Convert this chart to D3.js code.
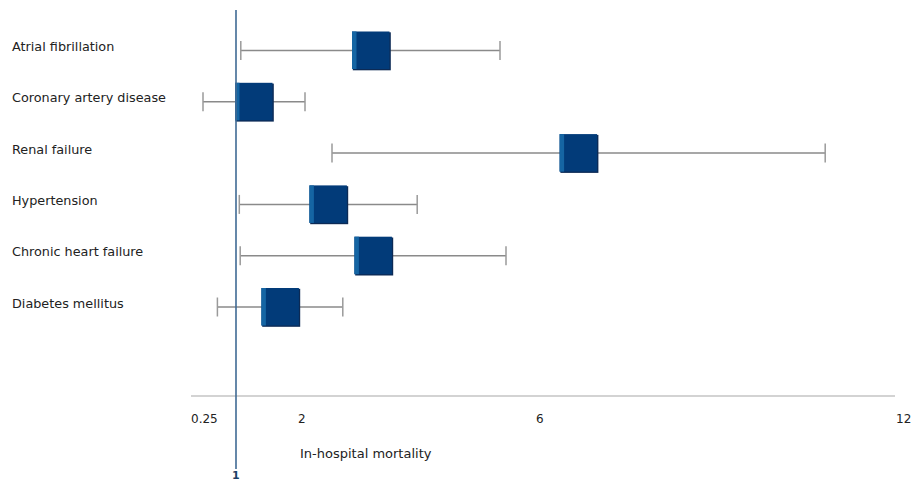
<!DOCTYPE html>
<html>
<head>
<meta charset="utf-8">
<script src="https://cdn.jsdelivr.net/npm/d3@7/dist/d3.min.js"></script>
<style>
  html, body { margin: 0; padding: 0; background: #fff; }
  svg { display: block; font-family: "DejaVu Sans", sans-serif; }
</style>
</head>
<body>
<svg id="chart" width="912" height="483"></svg>
<script>
const categories = ["Atrial fibrillation", "Coronary artery disease", "Renal failure", "Hypertension", "Chronic heart failure", "Diabetes mellitus"];
const estimates = [3.25, 1.30, 6.71, 2.54, 3.29, 1.74];
const lowerCI = [1.08, 0.45, 2.60, 1.055, 1.07, 0.69];
const upperCI = [5.40, 2.15, 10.82, 4.02, 5.50, 2.78];
const tickValues = [0.25, 2, 6, 12];
const referenceValue = 1;
const axisTitle = "In-hospital mortality";

const svg = d3.select("#chart");
const x = d3.scaleLinear().domain([0.25, 12]).range([191, 896]);
const y = d3.scalePoint().domain(categories).range([50.5, 307]);

const rows = categories.map((c, i) => ({ c, est: estimates[i], lo: lowerCI[i], hi: upperCI[i] }));

// x axis line
svg.append("line")
  .attr("x1", x(0.25)).attr("x2", x(12) - 1)
  .attr("y1", 396).attr("y2", 396)
  .attr("stroke", "#c4c4c4").attr("stroke-width", 1.3);

// tick labels (left-aligned at tick position)
svg.selectAll("text.tick").data(tickValues).join("text")
  .attr("class", "tick")
  .attr("x", d => x(d) + (d === 2 ? 2 : 0))
  .attr("y", 423)
  .attr("font-size", 12)
  .attr("fill", "#222")
  .text(d => d3.format("")(d));

// axis title
svg.append("text")
  .attr("x", 300).attr("y", 458)
  .attr("font-size", 13).attr("fill", "#222")
  .text(axisTitle);

// category labels
svg.selectAll("text.cat").data(rows).join("text")
  .attr("class", "cat")
  .attr("x", 12).attr("y", d => y(d.c) + 0.5)
  .attr("font-size", 12.8).attr("fill", "#222")
  .text(d => d.c);

// whiskers
const g = svg.append("g");
g.selectAll("line.ci").data(rows).join("line")
  .attr("class", "ci")
  .attr("x1", d => x(d.lo)).attr("x2", d => x(d.hi))
  .attr("y1", d => y(d.c)).attr("y2", d => y(d.c))
  .attr("stroke", "#8a8a8a").attr("stroke-width", 1.5);
["lo", "hi"].forEach(k => {
  g.selectAll("line.cap" + k).data(rows).join("line")
    .attr("class", "cap" + k)
    .attr("x1", d => x(d[k])).attr("x2", d => x(d[k]))
    .attr("y1", d => y(d.c) - 9.5).attr("y2", d => y(d.c) + 9.5)
    .attr("stroke", "#9a9a9a").attr("stroke-width", 1.5);
});

// boxes
const bs = 38;
const boxes = g.selectAll("g.box").data(rows).join("g").attr("class", "box");
boxes.append("rect")
  .attr("x", d => x(d.est) - bs / 2 + 0.8).attr("y", d => y(d.c) - bs / 2 + 0.8)
  .attr("width", bs).attr("height", bs)
  .attr("fill", "#0c2a55");
boxes.append("rect")
  .attr("x", d => x(d.est) - bs / 2).attr("y", d => y(d.c) - bs / 2)
  .attr("width", bs - 0.5).attr("height", bs - 0.5)
  .attr("fill", "#023b79");
boxes.append("rect")
  .attr("x", d => x(d.est) - bs / 2).attr("y", d => y(d.c) - bs / 2)
  .attr("width", 4.5).attr("height", bs - 0.5)
  .attr("fill", "#1565a3");

// reference line
svg.append("line")
  .attr("x1", x(referenceValue)).attr("x2", x(referenceValue))
  .attr("y1", 10).attr("y2", 469)
  .attr("stroke", "#3f6a94").attr("stroke-width", 1.6);
svg.append("text")
  .attr("x", x(referenceValue) - 4).attr("y", 479)
  .attr("font-size", 11).attr("font-weight", "bold").attr("fill", "#1d3f66")
  .text(referenceValue);
</script>
</body>
</html>
